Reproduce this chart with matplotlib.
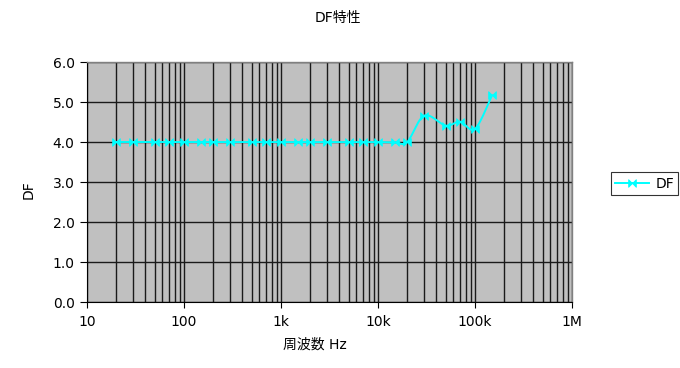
import numpy as np
import matplotlib
matplotlib.use("Agg")
import matplotlib.pyplot as plt
from matplotlib.path import Path
from matplotlib.lines import Line2D
from matplotlib.ticker import FixedLocator, FixedFormatter, NullFormatter

plt.rcParams['font.family'] = ['DejaVu Sans', 'Noto Sans CJK JP']

freqs = [20, 30, 50, 70, 100, 150, 200, 300, 500, 700, 1000, 1500, 2000, 3000,
         5000, 7000, 10000, 15000, 20000, 30000, 50000, 70000, 100000, 150000]
df_values = [4.0, 4.0, 4.0, 4.0, 4.0, 4.0, 4.0, 4.0, 4.0, 4.0, 4.0, 4.0, 4.0, 4.0,
             4.0, 4.0, 4.0, 3.99, 4.0, 4.66, 4.41, 4.51, 4.33, 5.17]
x_tick_values = [10, 100, 1000, 10000, 100000, 1000000]
x_tick_labels = ["10", "100", "1k", "10k", "100k", "1M"]
y_tick_values = [0, 1, 2, 3, 4, 5, 6]
series_name = "DF"
title = "DF特性"
x_label = "周波数 Hz"
y_label = "DF"

# smoothed curve (Catmull-Rom style, as Excel smoothed lines) in log-x space
lx = np.log10(np.array(freqs, dtype=float))
yy = np.array(df_values, dtype=float)
pts = np.column_stack([lx, yy])
n = len(pts)
curve = []
for i in range(n - 1):
    p0 = pts[i - 1] if i > 0 else pts[i]
    p1 = pts[i]
    p2 = pts[i + 1]
    p3 = pts[i + 2] if i + 2 < n else pts[i + 1]
    c1 = p1 + (p2 - p0) / 6.0
    c2 = p2 - (p3 - p1) / 6.0
    t = np.linspace(0, 1, 25)[:, None]
    seg = ((1 - t) ** 3) * p1 + 3 * ((1 - t) ** 2) * t * c1 + 3 * (1 - t) * t ** 2 * c2 + t ** 3 * p2
    curve.append(seg if i == 0 else seg[1:])
curve = np.vstack(curve)

bowtie = Path([(-1, -1), (0, 0), (-1, 1), (-1, -1), (1, -1), (0, 0), (1, 1), (1, -1)],
              [Path.MOVETO, Path.LINETO, Path.LINETO, Path.CLOSEPOLY,
               Path.MOVETO, Path.LINETO, Path.LINETO, Path.CLOSEPOLY])

fig = plt.figure(figsize=(6.8, 3.68), dpi=100)
ax = fig.add_axes([87 / 680, 1 - 302 / 368, (572 - 87) / 680, (302 - 62) / 368])
ax.set_facecolor("#C0C0C0")

color = "#00FFFF"
ax.plot(10 ** curve[:, 0], curve[:, 1], color=color, lw=1.4, zorder=3)
ax.plot(freqs, df_values, linestyle="none", marker=bowtie, markersize=5.5,
        color=color, markeredgecolor=color, markeredgewidth=0.6, zorder=4)

ax.set_xscale("log")
ax.set_xlim(10, 1e6)
ax.set_ylim(0, 6)
ax.xaxis.set_major_locator(FixedLocator(x_tick_values))
ax.xaxis.set_major_formatter(FixedFormatter(x_tick_labels))
ax.xaxis.set_minor_formatter(NullFormatter())
ax.set_yticks(y_tick_values)
ax.set_yticklabels([f"{v:.1f}" for v in y_tick_values])

ax.grid(True, which="major", color="#1a1a1a", lw=1.0)
ax.grid(True, which="minor", axis="x", color="#1a1a1a", lw=1.0)
ax.set_axisbelow(True)

ax.tick_params(axis="x", which="major", length=4, width=0.8, colors="black",
               labelsize=10, pad=5, direction="out")
ax.tick_params(axis="x", which="minor", length=0)
ax.tick_params(axis="y", length=5, width=0.8, labelsize=10, pad=4, direction="out")

for s in ["top", "right"]:
    ax.spines[s].set_color("#808080")
    ax.spines[s].set_linewidth(1.0)
for s in ["left", "bottom"]:
    ax.spines[s].set_color("black")
    ax.spines[s].set_linewidth(0.8)

fig.text(338 / 680, 1 - 18 / 368, title, ha="center", va="center", fontsize=10)
fig.text(315 / 680, 1 - 345 / 368, x_label, ha="center", va="center", fontsize=10)
fig.text(29 / 680, 1 - 190 / 368, y_label, ha="center", va="center", fontsize=10, rotation=90)

handle = Line2D([], [], color=color, lw=1.4, marker=bowtie, markersize=5.5,
                markeredgecolor=color, markeredgewidth=0.6)
leg = fig.legend([handle], [series_name], loc="center left",
                 bbox_to_anchor=(611 / 680, 1 - 183.5 / 368), frameon=True,
                 fancybox=False, edgecolor="black", fontsize=10,
                 handlelength=2.4, borderpad=0.3, handletextpad=0.5,
                 borderaxespad=0)
leg.get_frame().set_linewidth(0.8)

fig.savefig("out.png", dpi=100)
